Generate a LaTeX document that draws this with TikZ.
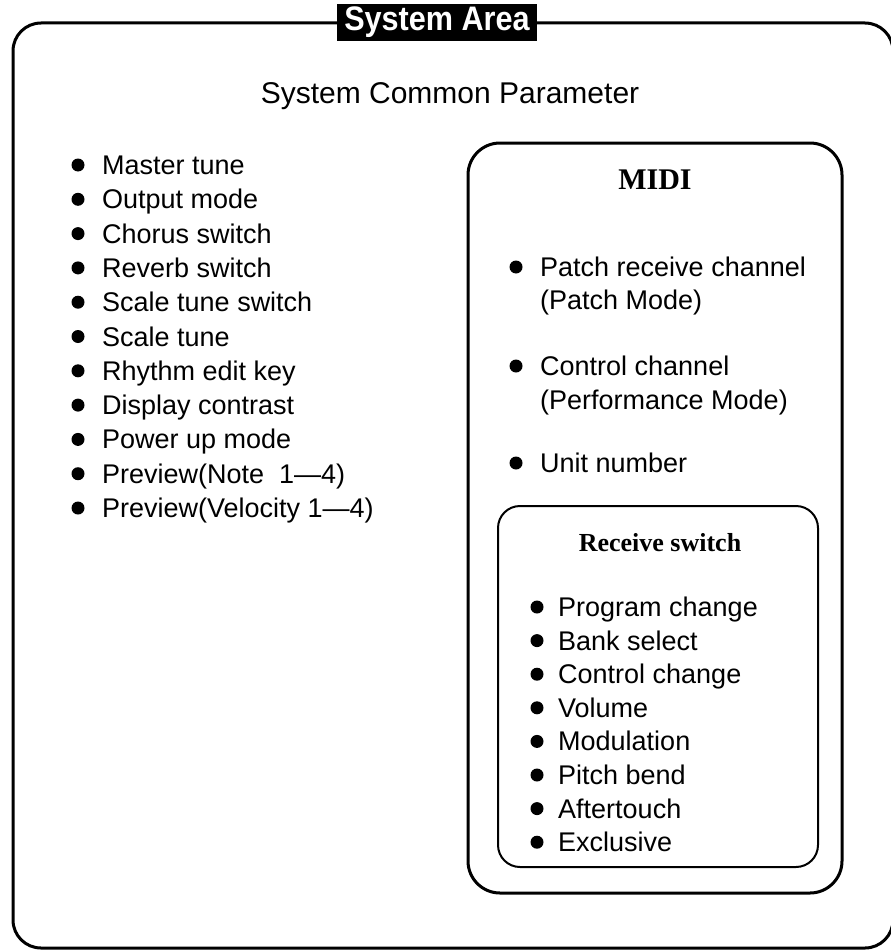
\documentclass[tikz,border=0pt]{standalone}
\usepackage{fontspec}
\setmainfont{Liberation Serif}
\setsansfont{Liberation Sans}
\usetikzlibrary{positioning}
\tikzset{frame/.style={draw=black,line width=3pt,rounded corners=28pt},item/.style={anchor=base west,inner sep=0pt,font=\sffamily\fontsize{27}{31}\selectfont},dot/.style={circle,fill=black,inner sep=0pt,minimum size=13pt},head/.style={inner sep=0pt,font=\bfseries\fontsize{30}{32}\selectfont}}
\begin{document}
\begin{tikzpicture}[x=1pt,y=-1pt]
\useasboundingbox (0,0) rectangle (891,950);
\draw[frame] (13,23) rectangle (893,948);
\node[fill=black,text=white,inner sep=0pt,font=\sffamily\bfseries\fontsize{34}{34}\selectfont,minimum width=200pt,minimum height=37pt] (title) at (437,22.5) {\scalebox{0.9}[1]{System Area}};
\node[anchor=base,inner sep=0pt,font=\sffamily\fontsize{30}{34}\selectfont] (common) at (450,103) {System Common Parameter};
% common parameters
\foreach \t [count=\i from 0] in {Master tune,Output mode,Chorus switch,Reverb switch,Scale tune switch,Scale tune,Rhythm edit key,Display contrast,Power up mode,{Preview(Note\ \ 1—4)},{Preview(Velocity 1—4)}}
{\node[item] (sys\i) at (102,{174.5+34.3*\i}) {\t};
\node[dot] (sysdot\i) at (78,{165+34.3*\i}) {};}
% MIDI
\draw[frame,rounded corners=32pt] (468,143) rectangle (842,893);
\node[head] (midi) at (655,180) {MIDI};
\node[item] (patch) at (540,276.5) {Patch receive channel};
\node[item] (patchmode) at (540,309.5) {(Patch Mode)};
\node[item] (ctrl) at (540,375.5) {Control channel};
\node[item] (perfmode) at (540,409.5) {(Performance Mode)};
\node[item] (unit) at (540,472.5) {Unit number};
\node[dot] (patchdot) at (516,267) {};
\node[dot] (ctrldot) at (516,366) {};
\node[dot] (unitdot) at (516,463) {};
% receive switch
\draw[line width=2pt,rounded corners=22pt] (498,506) rectangle (818,867);
\node[head,font=\bfseries\fontsize{26}{30}\selectfont] (recv) at (660,543) {Receive switch};
\foreach \t [count=\i from 0] in {Program change,Bank select,Control change,Volume,Modulation,Pitch bend,Aftertouch,Exclusive}
{\node[item] (rx\i) at (558,{616.5+33.6*\i}) {\t};
\node[dot] (rxdot\i) at (537,{607+33.6*\i}) {};}
\end{tikzpicture}
\end{document}
